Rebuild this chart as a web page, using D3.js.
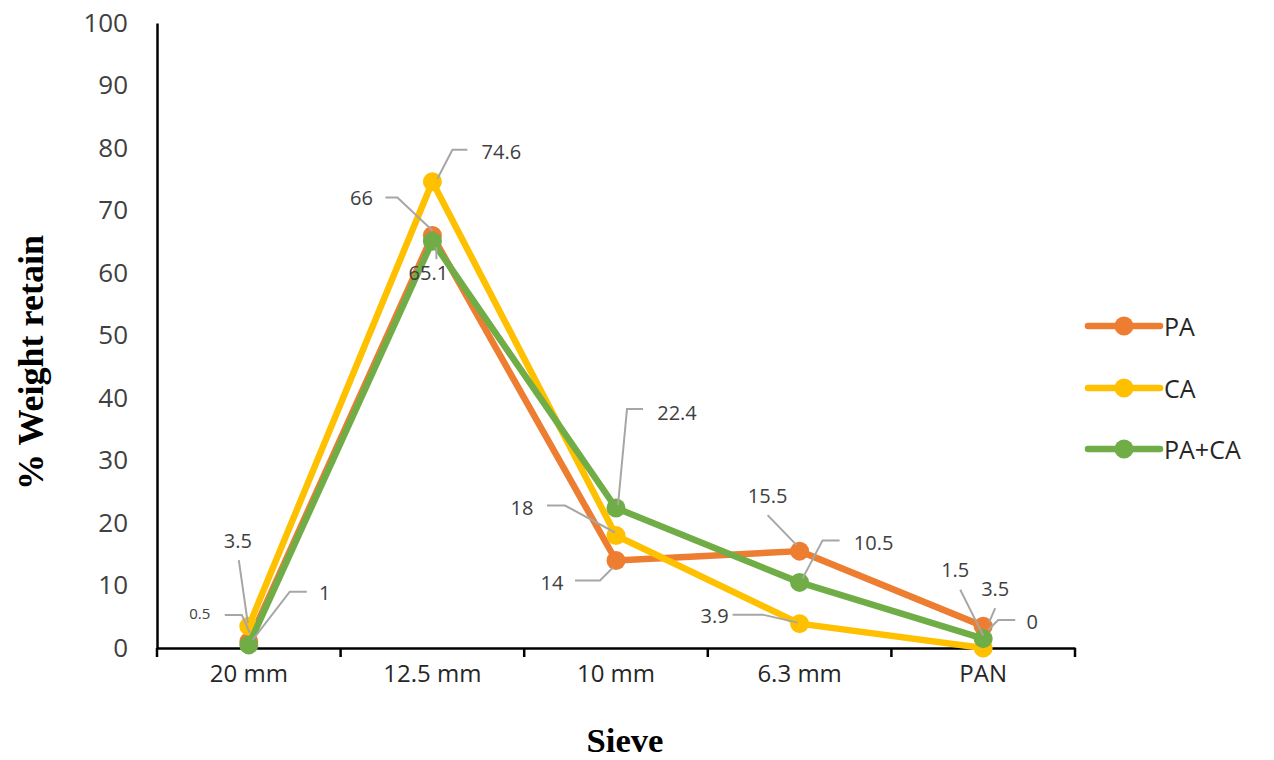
<!DOCTYPE html>
<html>
<head>
<meta charset="utf-8">
<script src="https://cdn.jsdelivr.net/npm/d3@7"></script>
<style>
  html, body { margin: 0; padding: 0; background: #ffffff; }
  svg { display: block; }
</style>
</head>
<body>
<svg id="chart" width="1274" height="760"></svg>
<script>
// Sieve analysis: percentage of weight retained on each sieve
const sieves = ["20 mm", "12.5 mm", "10 mm", "6.3 mm", "PAN"];
const seriesNames = ["PA", "CA", "PA+CA"];
const paValues = [1, 66, 14, 15.5, 3.5];
const caValues = [3.5, 74.6, 18, 3.9, 0];
const paCaValues = [0.5, 65.1, 22.4, 10.5, 1.5];
const yTicks = [0, 10, 20, 30, 40, 50, 60, 70, 80, 90, 100];

const colors = ["#ED7D31", "#FFC000", "#70AD47"];
const valuesBySeries = [paValues, caValues, paCaValues];

// Placement of each data label (label centre offset and leader-line offsets from the marker)
const labelLayout = [
  [ // PA
    { d: [76, -49], leader: [[58, -50], [41, -50], [4, -2]] },
    { d: [-71, -38], leader: [[-47, -38], [-35, -38], [0, -5]] },
    { d: [-64, 22], leader: [[-41, 20], [-16, 20], [-3, 7]] },
    { d: [-32, -56], leader: [[-32, -36], [-3, -6]] },
    { d: [12, -38], leader: [[12, -18], [6, -4]] }
  ],
  [ // CA
    { d: [-11, -86], leader: [[-10, -66], [-1, -3]] },
    { d: [69, -30], leader: [[35, -32], [20, -32], [5, -3]] },
    { d: [-94, -28], leader: [[-69, -30], [-51, -30], [-1, -3]] },
    { d: [-85, -8], leader: [[-67, -9], [-37, -9], [-2, -1]] },
    { d: [49, -27], leader: [[32, -28], [15, -28], [5, -18]] }
  ],
  [ // PA+CA
    { d: [-49, -32], leader: [[-24, -30], [-7, -30], [1, -12]], small: true },
    { d: [-4, 31], leader: [[4, 18], [4, 6]] },
    { d: [61, -96], leader: [[27, -99], [11, -99], [2, -3]] },
    { d: [74, -40], leader: [[40, -42], [23, -42], [3, -4]] },
    { d: [-28, -69], leader: [[-23, -49], [0, -3]] }
  ]
];

const svg = d3.select("#chart");
const plot = { left: 157, right: 1075, top: 23, bottom: 648 };

const x = d3.scaleBand().domain(sieves).range([plot.left, plot.right]).padding(0);
const y = d3.scaleLinear().domain([0, 100]).range([plot.bottom, plot.top]);
const cx = d => x(d) + x.bandwidth() / 2;

const textColor = "#404040";
const uiFont = "'Open Sans', 'Noto Sans', sans-serif";

// Y tick labels (no tick marks, axis line only)
const yAxis = svg.append("g").attr("transform", `translate(${plot.left},0)`)
  .call(d3.axisLeft(y).tickValues(yTicks).tickSize(0).tickPadding(29));
yAxis.select(".domain").attr("stroke", "#000").attr("stroke-width", 2.5);
yAxis.selectAll("text")
  .attr("font-family", uiFont).attr("font-size", 26).attr("fill", textColor);

// X axis with tick marks on category boundaries
const xAxis = svg.append("g").attr("transform", `translate(0,${plot.bottom})`)
  .call(d3.axisBottom(x).tickSize(0).tickPadding(17));
xAxis.select(".domain").attr("stroke", "#000").attr("stroke-width", 2.5);
xAxis.selectAll("text")
  .attr("font-family", uiFont)
  .attr("font-size", 24).attr("fill", "#262626");
const boundaries = sieves.map(s => x(s)).concat([x(sieves[sieves.length - 1]) + x.bandwidth()]);
svg.append("g").selectAll("line").data(boundaries).join("line")
  .attr("x1", d => d).attr("x2", d => d)
  .attr("y1", plot.bottom).attr("y2", plot.bottom + 9)
  .attr("stroke", "#000").attr("stroke-width", 2.5);

// Axis titles
svg.append("text")
  .attr("transform", `translate(31,${(plot.top + plot.bottom) / 2 + 27}) rotate(-90)`)
  .attr("text-anchor", "middle").attr("dominant-baseline", "central")
  .attr("font-family", "'Liberation Serif', 'DejaVu Serif', serif")
  .attr("font-weight", "bold").attr("font-size", 36)
  .attr("textLength", 255).attr("lengthAdjust", "spacingAndGlyphs")
  .attr("fill", "#000").text("% Weight retain");
svg.append("text")
  .attr("x", 625).attr("y", 740)
  .attr("text-anchor", "middle").attr("dominant-baseline", "central")
  .attr("font-family", "'Liberation Serif', 'DejaVu Serif', serif")
  .attr("font-weight", "bold").attr("font-size", 34)
  .attr("textLength", 77).attr("lengthAdjust", "spacingAndGlyphs")
  .attr("fill", "#000").text("Sieve");

// Series lines and markers
const line = d3.line().x((d, i) => cx(sieves[i])).y(d => y(d));
valuesBySeries.forEach((vals, s) => {
  const g = svg.append("g");
  g.append("path").datum(vals)
    .attr("d", line).attr("fill", "none")
    .attr("stroke", colors[s]).attr("stroke-width", 6.5)
    .attr("stroke-linejoin", "round").attr("stroke-linecap", "round");
  g.selectAll("circle").data(vals).join("circle")
    .attr("cx", (d, i) => cx(sieves[i])).attr("cy", d => y(d))
    .attr("r", 9.5).attr("fill", colors[s]);
});

// Data labels with leader lines
const labelsG = svg.append("g");
valuesBySeries.forEach((vals, s) => {
  vals.forEach((v, i) => {
    const px = cx(sieves[i]), py = y(v);
    const lay = labelLayout[s][i];
    const pts = lay.leader.map(o => [px + o[0], py + o[1]]);
    labelsG.append("path")
      .attr("d", d3.line()(pts)).attr("fill", "none")
      .attr("stroke", "#A6A6A6").attr("stroke-width", 2);
    labelsG.append("text")
      .attr("x", px + lay.d[0]).attr("y", py + lay.d[1])
      .attr("text-anchor", "middle").attr("dominant-baseline", "central")
      .attr("font-family", uiFont).attr("font-size", lay.small ? 15 : 20)
      .attr("fill", textColor).text(v);
  });
});

// Legend
const legendY = [326, 388, 449];
const legend = svg.append("g");
seriesNames.forEach((name, s) => {
  const ly = legendY[s];
  legend.append("line").attr("x1", 1088).attr("x2", 1160).attr("y1", ly).attr("y2", ly)
    .attr("stroke", colors[s]).attr("stroke-width", 6.5).attr("stroke-linecap", "round");
  legend.append("circle").attr("cx", 1124).attr("cy", ly).attr("r", 9.5).attr("fill", colors[s]);
  legend.append("text").attr("x", 1164).attr("y", ly)
    .attr("dominant-baseline", "central")
    .attr("font-family", uiFont).attr("font-size", 25).attr("fill", "#262626").text(name);
});
</script>
</body>
</html>
